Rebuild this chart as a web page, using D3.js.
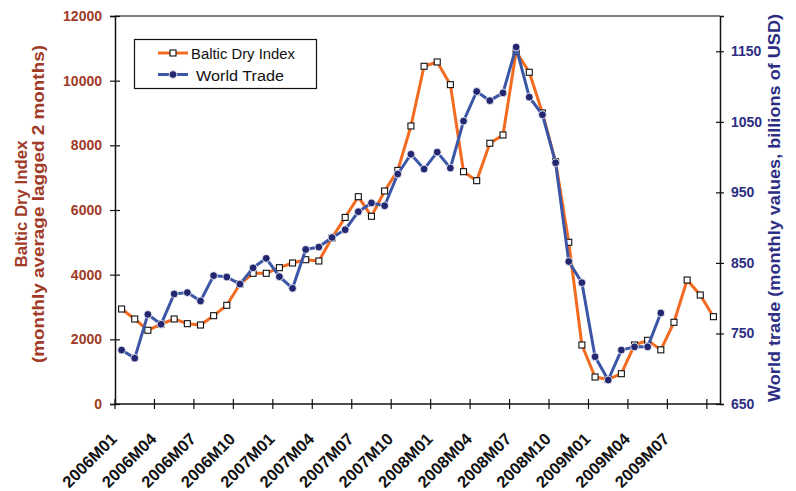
<!DOCTYPE html>
<html>
<head>
<meta charset="utf-8">
<script src="https://cdn.jsdelivr.net/npm/d3@7"></script>
<style>
  html, body { margin: 0; padding: 0; background: #fff; }
  svg { display: block; font-family: Arial, "Liberation Sans", sans-serif; }
</style>
</head>
<body>
<svg id="chart" width="796" height="491"></svg>
<script>
const months = [
  "2006M01","2006M02","2006M03","2006M04","2006M05","2006M06","2006M07","2006M08","2006M09","2006M10","2006M11","2006M12",
  "2007M01","2007M02","2007M03","2007M04","2007M05","2007M06","2007M07","2007M08","2007M09","2007M10","2007M11","2007M12",
  "2008M01","2008M02","2008M03","2008M04","2008M05","2008M06","2008M07","2008M08","2008M09","2008M10","2008M11","2008M12",
  "2009M01","2009M02","2009M03","2009M04","2009M05","2009M06","2009M07","2009M08","2009M09","2009M10"
];
const balticDryIndex = [
  2938, 2629, 2280, 2470, 2629, 2484, 2443, 2731, 3053, 3712, 4042, 4042,
  4216, 4361, 4463, 4423, 5140, 5770, 6412, 5805, 6588, 7225, 8599, 10445,
  10578, 9877, 7185, 6907, 8064, 8320, 10900, 10260, 9000, 7490, 5001, 1825,
  835, 760, 937, 1825, 1970, 1675, 2527, 3835, 3371, 2701
];
const worldTrade = [
  726.5, 715, 777, 763, 806, 808, 796, 832, 830, 820, 843, 856.5,
  830.5, 814, 869, 872.5, 886, 897, 922.6, 935, 931, 976, 1004, 983,
  1007, 984.5, 1051, 1093, 1080, 1091, 1156, 1085, 1060, 992, 852, 822,
  717, 684, 726.5, 731, 731, 779, null, null, null, null
];
const leftTicks = [0, 2000, 4000, 6000, 8000, 10000, 12000];
const rightTicks = [650, 750, 850, 950, 1050, 1150];
const labelEvery = 3;
const seriesNames = ["Baltic Dry Index", "World Trade"];

const L = 115, R = 720, T = 16, B = 404;
const cOrange = "#f26b21", cBlue = "#3b56a6", cDot = "#232670";
const cLeft = "#a13a27", cRight = "#2c2e83";

const svg = d3.select("#chart");
const x = d3.scaleBand().domain(months).range([L, R]).padding(0);
const yL = d3.scaleLinear().domain([0, 12000]).range([B, T]);
const yR = d3.scaleLinear().domain([650, 1200]).range([B, T]);
const cx = m => x(m) + x.bandwidth() / 2;

// frame top
svg.append("line").attr("x1", L).attr("x2", R).attr("y1", T).attr("y2", T)
  .attr("stroke", "#555").attr("stroke-width", 1.5);

// left axis
const gL = svg.append("g").attr("transform", `translate(${L},0)`)
  .call(d3.axisLeft(yL).tickValues(leftTicks).tickSize(5).tickPadding(8).tickFormat(d3.format("d")));
gL.select(".domain").attr("stroke", "#111").attr("stroke-width", 1.5);
gL.selectAll(".tick line").attr("x1", 5).attr("stroke", "#111").attr("stroke-width", 1.2);
gL.selectAll(".tick text").attr("fill", cLeft).style("font-size", "14px").style("font-weight", "bold");

// right axis
const gR = svg.append("g").attr("transform", `translate(${R},0)`)
  .call(d3.axisRight(yR).tickValues(rightTicks).tickSize(4).tickPadding(7).tickFormat(d3.format("d")));
gR.select(".domain").attr("stroke", "#111").attr("stroke-width", 1.5);
gR.selectAll(".tick line").attr("x1", -4).attr("stroke", "#111").attr("stroke-width", 1.2);
gR.selectAll(".tick text").attr("fill", cRight).style("font-size", "14px").style("font-weight", "bold");

// bottom axis
svg.append("line").attr("x1", L).attr("x2", R).attr("y1", B).attr("y2", B)
  .attr("stroke", "#111").attr("stroke-width", 1.5);
const tickMonths = months.filter((m, i) => i % labelEvery === 0);
svg.append("g").selectAll("line").data(tickMonths).join("line")
  .attr("x1", d => x(d)).attr("x2", d => x(d)).attr("y1", B - 5).attr("y2", B + 5)
  .attr("stroke", "#111").attr("stroke-width", 1.2);
const labelMonths = tickMonths.filter(m => months.indexOf(m) <= 42);
svg.append("g").selectAll("text").data(labelMonths).join("text")
  .attr("transform", d => `translate(${x(d) + 3},${440}) rotate(-45)`)
  .attr("text-anchor", "end")
  .style("font-size", "16.5px").style("font-weight", "bold").attr("fill", "#111")
  .text(d => d);

// axis titles
const tl = svg.append("text").attr("transform", "translate(27,204) rotate(-90)")
  .attr("text-anchor", "middle").attr("fill", cLeft)
  .style("font-size", "16px").style("font-weight", "bold");
tl.append("tspan").attr("x", 0).attr("y", 0).attr("textLength", 127).attr("lengthAdjust", "spacingAndGlyphs").text("Baltic Dry Index");
tl.append("tspan").attr("x", 0).attr("y", 17).attr("textLength", 318).attr("lengthAdjust", "spacingAndGlyphs").text("(monthly average lagged 2 months)");

svg.append("text").attr("transform", "translate(780,208) rotate(-90)")
  .attr("text-anchor", "middle").attr("fill", cRight)
  .style("font-size", "17px").style("font-weight", "bold")
  .attr("textLength", 388).attr("lengthAdjust", "spacingAndGlyphs")
  .text("World trade (monthly values, billions of USD)");

// series
const bdiData = months.map((m, i) => ({ m, v: balticDryIndex[i] }));
const wtData = months.map((m, i) => ({ m, v: worldTrade[i] })).filter(d => d.v != null);

svg.append("path").datum(bdiData)
  .attr("d", d3.line().x(d => cx(d.m)).y(d => yL(d.v)))
  .attr("fill", "none").attr("stroke", cOrange).attr("stroke-width", 3).attr("stroke-linejoin", "round");
svg.append("g").selectAll("rect").data(bdiData).join("rect")
  .attr("x", d => cx(d.m) - 3).attr("y", d => yL(d.v) - 3).attr("width", 6).attr("height", 6)
  .attr("fill", "#fff").attr("stroke", "#111").attr("stroke-width", 1.1);

svg.append("path").datum(wtData)
  .attr("d", d3.line().x(d => cx(d.m)).y(d => yR(d.v)))
  .attr("fill", "none").attr("stroke", cBlue).attr("stroke-width", 3).attr("stroke-linejoin", "round");
svg.append("g").selectAll("circle").data(wtData).join("circle")
  .attr("cx", d => cx(d.m)).attr("cy", d => yR(d.v)).attr("r", 3.9)
  .attr("fill", cDot).attr("stroke", "#fff").attr("stroke-width", 0.8);

// legend
const lg = svg.append("g");
lg.append("rect").attr("x", 134.5).attr("y", 39.5).attr("width", 182).attr("height", 49)
  .attr("fill", "#fff").attr("stroke", "#111").attr("stroke-width", 1.2);
const legendItems = [
  { name: seriesNames[0], color: cOrange, y: 53, tx: 191, kind: "square" },
  { name: seriesNames[1], color: cBlue, y: 74.5, tx: 196, kind: "circle" }
];
legendItems.forEach(it => {
  lg.append("line").attr("x1", 158).attr("x2", 188).attr("y1", it.y).attr("y2", it.y)
    .attr("stroke", it.color).attr("stroke-width", 3);
  if (it.kind === "square") {
    lg.append("rect").attr("x", 170).attr("y", it.y - 3).attr("width", 6).attr("height", 6)
      .attr("fill", "#fff").attr("stroke", "#111").attr("stroke-width", 1.1);
  } else {
    lg.append("circle").attr("cx", 173).attr("cy", it.y).attr("r", 3.9)
      .attr("fill", cDot).attr("stroke", "#fff").attr("stroke-width", 0.8);
  }
  lg.append("text").attr("x", it.tx).attr("y", it.y + 6).style("font-size", "15.5px").attr("fill", "#111")
    .attr("textLength", it.kind === "square" ? 104 : 88).attr("lengthAdjust", "spacingAndGlyphs")
    .text(it.name);
});
</script>
</body>
</html>
